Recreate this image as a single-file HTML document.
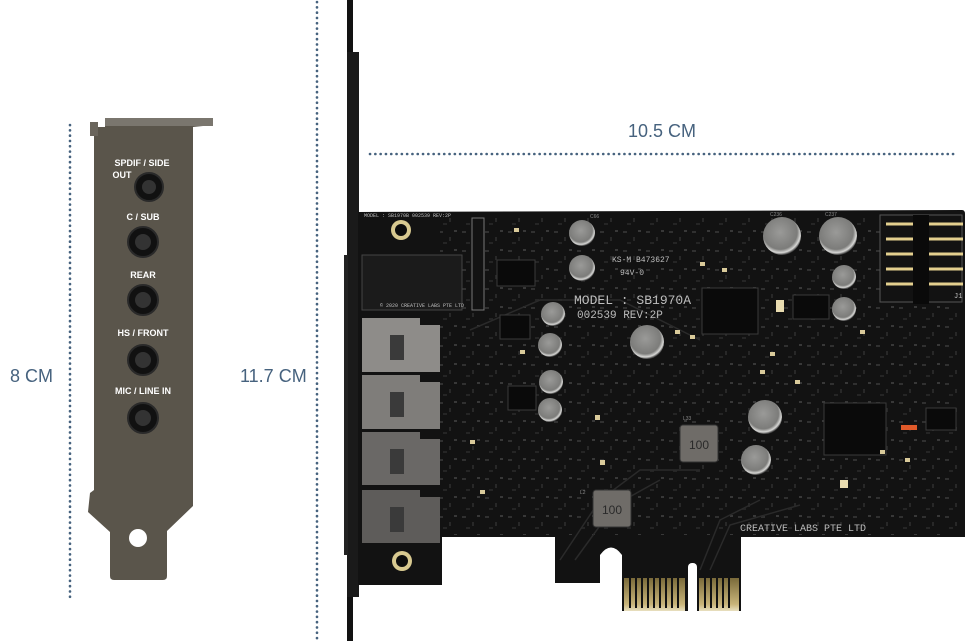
<!DOCTYPE html>
<html><head><meta charset="utf-8"><style>
html,body{margin:0;padding:0;background:#fff;width:971px;height:641px;overflow:hidden}
svg{display:block}
</style></head><body>
<svg width="971" height="641" viewBox="0 0 971 641" xmlns="http://www.w3.org/2000/svg" font-family="Liberation Sans, sans-serif">
<defs>
<radialGradient id="cap" cx="45%" cy="40%" r="60%"><stop offset="0" stop-color="#9a9a98"/><stop offset="0.75" stop-color="#7c7c7a"/><stop offset="0.9" stop-color="#d8d8d6"/><stop offset="1" stop-color="#3a3a3a"/></radialGradient>
<linearGradient id="gold" x1="0" y1="0" x2="0" y2="1"><stop offset="0" stop-color="#7a6a3a"/><stop offset="0.8" stop-color="#c9b57a"/><stop offset="1" stop-color="#e8e0c0"/></linearGradient>
<pattern id="smd" width="23" height="19" patternUnits="userSpaceOnUse">
<rect x="2" y="3" width="4" height="2" fill="#555"/><rect x="12" y="9" width="2" height="4" fill="#444"/><rect x="17" y="2" width="3" height="2" fill="#666"/><rect x="6" y="14" width="4" height="2" fill="#3d3d3d"/>
</pattern>
</defs>
<g stroke="#46627e" stroke-width="2.6" stroke-dasharray="0.1 5.2" stroke-linecap="round">
<line x1="70" y1="125" x2="70" y2="600"/>
<line x1="317" y1="2" x2="317" y2="641"/>
<line x1="370" y1="154" x2="958" y2="154"/>
</g>
<g fill="#46627e" font-size="18">
<text x="10" y="382">8 CM</text>
<text x="240" y="382">11.7 CM</text>
<text x="628" y="137">10.5 CM</text>
</g>
<!-- left bracket -->
<path d="M105 118 L213 118 L213 125 L193 127 L193 506 L167 531 L167 576 Q167 580 163 580 L114 580 Q110 580 110 576 L110 532 L88 512 L90 493 L94 490 L94 127 L105 127 Z" fill="#5a554b"/>
<rect x="90" y="122" width="8" height="14" fill="#6a655c"/>
<rect x="105" y="118" width="108" height="8" fill="#7a766e"/>
<circle cx="138" cy="538" r="9" fill="#fff"/>
<g fill="#fff" font-size="9" font-weight="bold" text-anchor="middle">
<text x="142" y="166">SPDIF / SIDE</text>
<text x="122" y="178">OUT</text>
<text x="143" y="220">C / SUB</text>
<text x="143" y="278">REAR</text>
<text x="143" y="336">HS / FRONT</text>
<text x="143" y="394">MIC / LINE IN</text>
</g>
<g fill="#111" stroke="#2a2a2a" stroke-width="2">
<circle cx="149" cy="187" r="14"/><circle cx="143" cy="242" r="15"/><circle cx="143" cy="300" r="15"/><circle cx="143" cy="360" r="15"/><circle cx="143" cy="418" r="15"/>
</g>
<g fill="#333"><circle cx="149" cy="187" r="7"/><circle cx="143" cy="242" r="8"/><circle cx="143" cy="300" r="8"/><circle cx="143" cy="360" r="8"/><circle cx="143" cy="418" r="8"/></g>
<!-- right bracket -->
<rect x="347" y="0" width="6" height="641" fill="#111"/>
<rect x="347" y="52" width="12" height="545" fill="#1a1a1a"/>
<rect x="344" y="255" width="4" height="300" fill="#222"/>
<!-- board -->
<path d="M358 212 L962 210 Q965 210 965 214 L965 537 L741 537 L741 611 L622 611 L622 555 Q611 540 600 555 L600 583 L555 583 L555 537 L442 537 L442 585 L358 585 Z" fill="#121212"/>
<rect x="440" y="215" width="520" height="320" fill="url(#smd)" opacity="0.45"/>
<rect x="688" y="563" width="9" height="48" rx="4" fill="#fff"/>
<rect x="688" y="567" width="9" height="44" fill="#fff"/>
<rect x="624" y="578" width="61" height="33" fill="url(#gold)"/>
<rect x="699" y="578" width="40" height="33" fill="url(#gold)"/>
<g stroke="#121212" stroke-width="2"><path d="M630 578v30M636 578v30M642 578v30M648 578v30M654 578v30M660 578v30M666 578v30M672 578v30M678 578v30M705 578v30M711 578v30M717 578v30M723 578v30M729 578v30"/></g>
<g stroke="#2a2a2a" stroke-width="1.5" fill="none">
<path d="M560 560 L600 500 L640 470 L700 470"/><path d="M575 560 L615 505 L660 480"/><path d="M700 570 L720 520 L760 500"/><path d="M710 570 L730 525 L800 505"/><path d="M470 330 L540 300 L620 300 L700 340"/>
</g>
<circle cx="401" cy="230" r="10" fill="#d8c990"/><circle cx="401" cy="230" r="6" fill="#0c0c0c"/>
<circle cx="402" cy="561" r="10" fill="#d8c990"/><circle cx="402" cy="561" r="6" fill="#0c0c0c"/>
<rect x="362" y="255" width="100" height="55" fill="#1b1b1b" stroke="#444" stroke-width="1"/>
<rect x="472" y="218" width="12" height="92" fill="#121212" stroke="#777" stroke-width="1"/>
<path d="M362 318 L420 318 L420 325 L440 325 L440 372 L362 372 Z" fill="#8e8c89"/>
<path d="M362 375 L420 375 L420 382 L440 382 L440 429 L362 429 Z" fill="#7f7d7a"/>
<path d="M362 432 L420 432 L420 439 L440 439 L440 485 L362 485 Z" fill="#6a6866"/>
<path d="M362 490 L420 490 L420 497 L440 497 L440 543 L362 543 Z" fill="#5e5c5a"/>
<g fill="#3a3a3a"><rect x="390" y="335" width="14" height="25"/><rect x="390" y="392" width="14" height="25"/><rect x="390" y="449" width="14" height="25"/><rect x="390" y="507" width="14" height="25"/></g>
<g fill="url(#cap)">
<circle cx="582" cy="233" r="13"/><circle cx="582" cy="268" r="13"/>
<circle cx="782" cy="236" r="19"/><circle cx="838" cy="236" r="19"/>
<circle cx="844" cy="277" r="12"/><circle cx="844" cy="309" r="12"/>
<circle cx="553" cy="314" r="12"/><circle cx="550" cy="345" r="12"/><circle cx="551" cy="382" r="12"/><circle cx="550" cy="410" r="12"/>
<circle cx="647" cy="342" r="17"/><circle cx="765" cy="417" r="17"/><circle cx="756" cy="460" r="15"/>
</g>
<g fill="#0a0a0a" stroke="#3a3a3a" stroke-width="1">
<rect x="702" y="288" width="56" height="46"/>
<rect x="824" y="403" width="62" height="52"/>
<rect x="793" y="295" width="36" height="24"/>
<rect x="926" y="408" width="30" height="22"/>
<rect x="497" y="260" width="38" height="26"/>
<rect x="500" y="315" width="30" height="24"/>
<rect x="508" y="386" width="28" height="24"/>
</g>
<rect x="680" y="425" width="38" height="37" rx="3" fill="#6f6c68" stroke="#333"/>
<text x="699" y="449" fill="#2a2a2a" font-size="12" text-anchor="middle">100</text>
<rect x="593" y="490" width="38" height="37" rx="3" fill="#6f6c68" stroke="#333"/>
<text x="612" y="514" fill="#2a2a2a" font-size="12" text-anchor="middle">100</text>
<rect x="880" y="215" width="82" height="87" fill="#121212" stroke="#555"/>
<g stroke="#e3cf8e" stroke-width="3"><line x1="886" y1="224" x2="963" y2="224"/><line x1="886" y1="239" x2="963" y2="239"/><line x1="886" y1="254" x2="963" y2="254"/><line x1="886" y1="269" x2="963" y2="269"/><line x1="886" y1="284" x2="963" y2="284"/></g>
<rect x="913" y="215" width="16" height="89" fill="#0a0a0a"/>
<g fill="#d9ca9a">
<rect x="514" y="228" width="5" height="4"/><rect x="700" y="262" width="5" height="4"/><rect x="722" y="268" width="5" height="4"/><rect x="675" y="330" width="5" height="4"/><rect x="690" y="335" width="5" height="4"/><rect x="770" y="352" width="5" height="4"/><rect x="840" y="480" width="8" height="8" fill="#e9dcb0"/><rect x="776" y="300" width="8" height="12" fill="#e9dcb0"/><rect x="595" y="415" width="5" height="5"/><rect x="600" y="460" width="5" height="5"/><rect x="470" y="440" width="5" height="4"/><rect x="480" y="490" width="5" height="4"/><rect x="905" y="458" width="5" height="4"/><rect x="880" y="450" width="5" height="4"/><rect x="860" y="330" width="5" height="4"/><rect x="520" y="350" width="5" height="4"/><rect x="760" y="370" width="5" height="4"/><rect x="795" y="380" width="5" height="4"/>
</g>
<rect x="901" y="425" width="16" height="5" fill="#e05a2a"/>
<g fill="#bdbdbd" font-family="Liberation Mono, monospace">
<text x="574" y="304" font-size="13">MODEL : SB1970A</text>
<text x="577" y="318" font-size="11">002539  REV:2P</text>
<text x="612" y="262" font-size="8">KS-M B473627</text>
<text x="620" y="275" font-size="8">94V-0</text>
<text x="740" y="531" font-size="10">CREATIVE LABS PTE LTD</text>
<text x="364" y="217" font-size="5">MODEL : SB1970B 002539 REV:2P</text>
<text x="380" y="307" font-size="5">© 2020 CREATIVE LABS PTE LTD</text>
<text x="954" y="298" font-size="7">J1</text>
</g>
<g fill="#888" font-size="5"><text x="590" y="218">C66</text><text x="770" y="216">C236</text><text x="825" y="216">C237</text><text x="683" y="420">L33</text><text x="580" y="494">L2</text></g>
</svg>
</body></html>
